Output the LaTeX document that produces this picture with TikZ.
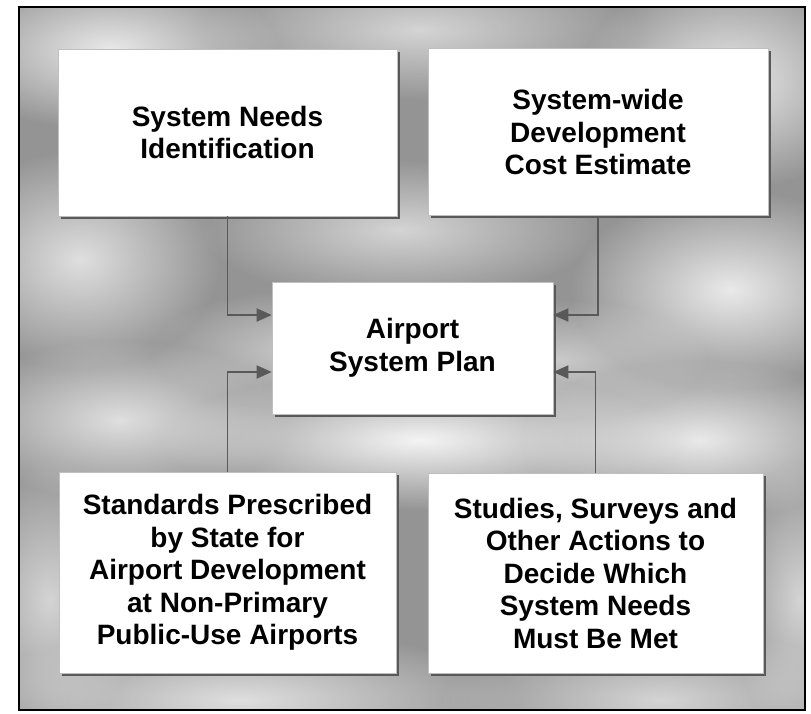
\documentclass[tikz,border=0pt]{standalone}
\usepackage{fontspec}
\setmainfont{Liberation Sans}
\usetikzlibrary{arrows.meta,shadows,fadings}
\tikzfading[name=softblob,inner color=transparent!0,outer color=transparent!100]
\begin{document}
\begin{tikzpicture}[x=1pt,y=-1pt,
  box/.style={draw=black!25,line width=0.6pt,fill=white,align=center,
    font=\fontsize{28}{32.5}\selectfont\bfseries,inner sep=0pt,
    drop shadow={shadow xshift=2.5pt,shadow yshift=-2.5pt,fill=black!65,opacity=1}},
  conn/.style={line width=1.8pt,-{Triangle[length=15pt,width=13pt]},color=black!65},
  cloud/.style={fill=white,path fading=softblob}]
\useasboundingbox (0,0) rectangle (811,713);
\fill[white] (0,0) rectangle (811,713);
% cloudy background
\begin{scope}
\clip (19,7) rectangle (805,710);
\fill[black!42] (19,7) rectangle (805,710);
\fill[cloud,opacity=0.8] (110,50) ellipse (170 and 80);
\fill[cloud,opacity=0.6] (420,30) ellipse (220 and 70);
\fill[cloud,opacity=0.8] (730,80) ellipse (150 and 110);
\fill[cloud,opacity=0.7] (80,260) ellipse (140 and 110);
\fill[cloud,opacity=0.6] (400,230) ellipse (200 and 70);
\fill[cloud,opacity=0.8] (730,290) ellipse (160 and 100);
\fill[cloud,opacity=0.9] (420,440) ellipse (260 and 70);
\fill[cloud,opacity=0.7] (120,420) ellipse (170 and 80);
\fill[cloud,opacity=0.8] (700,440) ellipse (180 and 80);
\fill[cloud,opacity=0.7] (240,700) ellipse (280 and 70);
\fill[cloud,opacity=0.6] (660,700) ellipse (220 and 70);
\fill[cloud,opacity=0.6] (50,600) ellipse (90 and 140);
\fill[cloud,opacity=0.6] (800,600) ellipse (70 and 140);
\fill[cloud,opacity=0.5] (300,350) ellipse (150 and 60);
\fill[cloud,opacity=0.5] (560,360) ellipse (150 and 60);
\end{scope}
\draw[black,line width=2.4pt] (19,7) rectangle (805,710);
% boxes
\node[box,minimum width=339pt,minimum height=167pt] (tl) at (227.5,132.5) {System Needs\\Identification};
\node[box,minimum width=340pt,minimum height=167pt] (tr) at (598,132) {System-wide\\Development\\Cost Estimate};
\node[box,minimum width=281pt,minimum height=132pt] (ctr) at (412.5,348) {Airport\\System Plan};
\node[box,minimum width=337pt,minimum height=201pt] (bl) at (227.5,572.5) {Standards Prescribed\\by State for\\Airport Development\\at Non-Primary\\Public-Use Airports};
\node[box,minimum width=335pt,minimum height=200pt] (br) at (595.5,573) {Studies, Surveys and\\Other Actions to\\Decide Which\\System Needs\\Must Be Met};
% arrow targets
\coordinate (a1) at (ctr.west |- 0,315);
\coordinate (a2) at (ctr.east |- 0,315);
\coordinate (a3) at (ctr.west |- 0,372);
\coordinate (a4) at (ctr.east |- 0,372);
\draw[conn] (tl.south) |- (a1);
\draw[conn] (tr.south) |- (a2);
\draw[conn] (bl.north) |- (a3);
\draw[conn] (br.north) |- (a4);
\end{tikzpicture}
\end{document}
